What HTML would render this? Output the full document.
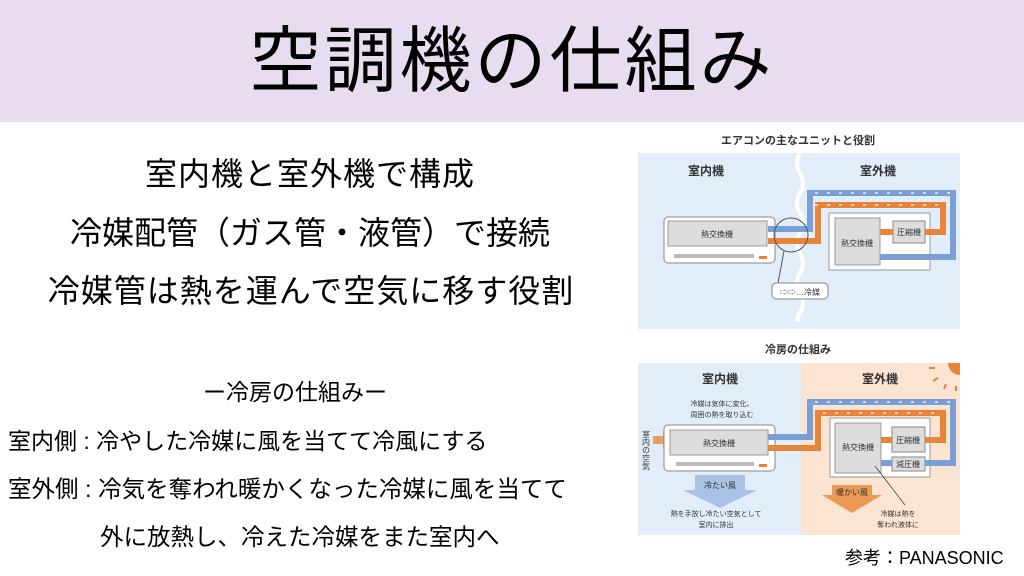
<!DOCTYPE html>
<html><head><meta charset="utf-8"><style>
body{margin:0;width:1024px;height:576px;position:relative;background:#fff;overflow:hidden;font-family:"Liberation Sans","Noto Sans CJK JP",sans-serif;color:#000}
.hd{position:absolute;left:0;top:0;width:1024px;height:122px;background:#e8dcf1}
.t{position:absolute;white-space:nowrap}
</style></head><body>
<div class="hd"></div>
<div class="t" style="left:0;width:1024px;text-align:center;top:18px;font-size:72px;line-height:88px;letter-spacing:3px">空調機の仕組み</div>
<div class="t" style="left:0;width:620px;text-align:center;top:153px;font-size:32px;line-height:42px;letter-spacing:1px">室内機と室外機で構成</div>
<div class="t" style="left:0;width:620px;text-align:center;top:212px;font-size:32px;line-height:42px;letter-spacing:0px">冷媒配管（ガス管・液管）で接続</div>
<div class="t" style="left:0;width:622px;text-align:center;top:270px;font-size:32px;line-height:42px;letter-spacing:1px">冷媒管は熱を運んで空気に移す役割</div>
<div class="t" style="left:0;width:590px;text-align:center;top:377px;font-size:23px;line-height:30px">ー冷房の仕組みー</div>
<div class="t" style="left:8px;top:426px;font-size:23px;line-height:30px">室内側 : 冷やした冷媒に風を当てて冷風にする</div>
<div class="t" style="left:8px;top:474px;font-size:23.5px;line-height:30px">室外側 : 冷気を奪われ暖かくなった冷媒に風を当てて</div>
<div class="t" style="left:100px;top:522px;font-size:23.5px;line-height:30px">外に放熱し、冷えた冷媒をまた室内へ</div>
<div class="t" style="left:845px;top:546px;font-size:18px;line-height:24px">参考：PANASONIC</div>

<svg width="1024" height="576" style="position:absolute;left:0;top:0" font-family="Liberation Sans, Noto Sans CJK JP, sans-serif">
<text x="798" y="144" font-size="11" font-weight="bold" text-anchor="middle" fill="#333">エアコンの主なユニットと役割</text>
<rect x="638" y="153" width="322" height="176" fill="#e1eef9"/>
<path d="M800 153 q-6 10 0 20 q6 10 0 20 q-6 10 0 20 q6 10 0 20 q-6 10 0 20 q6 10 0 20 q-6 10 0 20 q6 10 0 20 q-6 10 0 6" stroke="#fff" stroke-width="4" fill="none"/>
<text x="706" y="175" font-size="12" font-weight="bold" text-anchor="middle" fill="#333">室内機</text>
<text x="878" y="175" font-size="12" font-weight="bold" text-anchor="middle" fill="#333">室外機</text>
<rect x="664" y="217" width="111" height="46" rx="4" fill="#fff" stroke="#888"/>
<rect x="668" y="221" width="99" height="25" fill="#ddd" stroke="#999"/>
<text x="717" y="237" font-size="8" text-anchor="middle" fill="#333">熱交換機</text>
<rect x="674" y="254" width="80" height="4" fill="#bbb"/>
<rect x="759" y="256" width="8" height="3" fill="#e8843a"/>
<rect x="829" y="213" width="101" height="57" fill="#fff" stroke="#999"/>
<rect x="835" y="218" width="45" height="47" fill="#ddd" stroke="#999"/>
<text x="857" y="246" font-size="8" text-anchor="middle" fill="#333">熱交換機</text>
<rect x="893" y="221" width="32" height="22" fill="#ddd" stroke="#888"/>
<text x="909" y="235" font-size="8" text-anchor="middle" fill="#333">圧縮機</text>
<path d="M768 229 H810 V193 H953 V257 H880" stroke="#7a9fd6" stroke-width="6" fill="none"/>
<path d="M768 241 H818 V205 H943 V232 H925" stroke="#e8843a" stroke-width="6" fill="none"/>
<path d="M893 232 H880" stroke="#e8843a" stroke-width="6"/>
<path d="M775 193 H950 M775 205 H940" stroke="#fff" stroke-width="1.2" stroke-dasharray="3 9" fill="none" transform="translate(40 0)"/>
<circle cx="791" cy="235" r="17" fill="none" stroke="#555"/>
<path d="M784 251 L778 283" stroke="#555"/>
<rect x="772" y="283" width="56" height="16" rx="4" fill="#fff" stroke="#888"/>
<text x="800" y="295" font-size="8" text-anchor="middle" fill="#333">⇨⇨…冷媒</text>

<text x="798" y="353" font-size="11" font-weight="bold" text-anchor="middle" fill="#333">冷房の仕組み</text>
<rect x="638" y="363" width="163" height="172" fill="#e1eef9"/>
<rect x="801" y="363" width="159" height="172" fill="#fbe5d2"/>
<path d="M948 363 A12 12 0 0 0 960 375 V363Z" fill="#e8843a"/>
<path d="M935 368 h-6 M938 378 l-5 3 M946 384 l-2 5 M956 386 v5" stroke="#e8843a" stroke-width="2"/>
<text x="720" y="383" font-size="12" font-weight="bold" text-anchor="middle" fill="#333">室内機</text>
<text x="880" y="383" font-size="12" font-weight="bold" text-anchor="middle" fill="#333">室外機</text>
<text x="722" y="406" font-size="7" text-anchor="middle" fill="#333">冷媒は気体に変化、</text>
<text x="722" y="417" font-size="7" text-anchor="middle" fill="#333">周囲の熱を取り込む</text>
<text x="646" y="430" font-size="8" fill="#333" writing-mode="tb">室内の空気</text>
<path d="M653 436 h10 v-4 l8 8 -8 8 v-4 h-10z" fill="#e8a060"/>
<rect x="664" y="425" width="111" height="46" rx="4" fill="#fff" stroke="#888"/>
<rect x="670" y="430" width="98" height="25" fill="#ddd" stroke="#999"/>
<text x="719" y="446" font-size="8" text-anchor="middle" fill="#333">熱交換機</text>
<rect x="676" y="462" width="78" height="4" fill="#bbb"/>
<rect x="759" y="464" width="8" height="3" fill="#e8843a"/>
<path d="M695 475 h50 v15 h12 l-37 18 -37 -18 h12z" fill="#a9c2e6"/>
<text x="720" y="488" font-size="8" text-anchor="middle" fill="#333">冷たい風</text>
<text x="716" y="516" font-size="7" text-anchor="middle" fill="#333">熱を手放し冷たい空気として</text>
<text x="716" y="527" font-size="7" text-anchor="middle" fill="#333">室内に排出</text>
<rect x="830" y="418" width="100" height="59" fill="#fff" stroke="#999"/>
<rect x="835" y="423" width="46" height="50" fill="#ddd" stroke="#999"/>
<text x="858" y="450" font-size="8" text-anchor="middle" fill="#333">熱交換機</text>
<rect x="892" y="427" width="33" height="25" fill="#ddd" stroke="#888"/>
<text x="908" y="443" font-size="8" text-anchor="middle" fill="#333">圧縮機</text>
<rect x="892" y="457" width="33" height="14" fill="#ddd" stroke="#888"/>
<text x="908" y="467" font-size="8" text-anchor="middle" fill="#333">減圧機</text>
<path d="M768 437 H810 V402 H953 V463 H925" stroke="#7a9fd6" stroke-width="6" fill="none"/>
<path d="M892 463 H881" stroke="#7a9fd6" stroke-width="6"/>
<path d="M768 448 H818 V413 H943 V440 H925" stroke="#e8843a" stroke-width="6" fill="none"/>
<path d="M892 440 H881" stroke="#e8843a" stroke-width="6"/>
<path d="M815 402 H950 M823 413 H940" stroke="#fff" stroke-width="1.2" stroke-dasharray="3 9" fill="none"/>
<path d="M832 485 h40 v10 h10 l-30 18 -30 -18 h10z" fill="#eb9a55"/>
<text x="852" y="495" font-size="8" text-anchor="middle" fill="#333">暖かい風</text>
<path d="M875 466 L905 505" stroke="#333" stroke-width="0.7"/>
<text x="898" y="516" font-size="7" text-anchor="middle" fill="#333">冷媒は熱を</text>
<text x="898" y="527" font-size="7" text-anchor="middle" fill="#333">奪われ液体に</text>
</svg>
</body></html>
